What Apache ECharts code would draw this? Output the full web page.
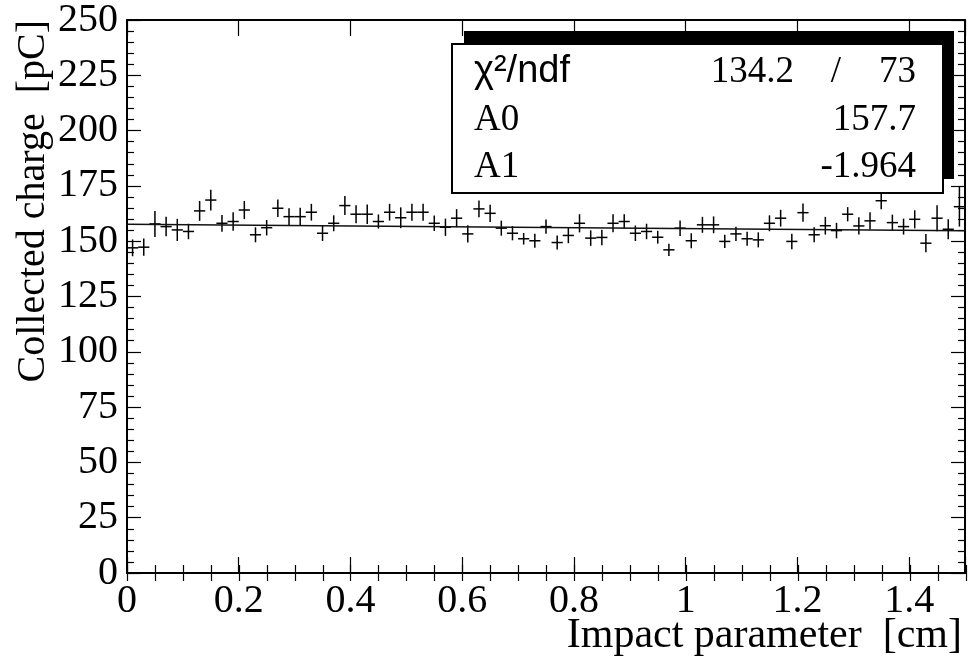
<!DOCTYPE html>
<html>
<head>
<meta charset="utf-8">
<script src="https://cdn.jsdelivr.net/npm/echarts@6/dist/echarts.min.js"></script>
<style>html,body{margin:0;padding:0;background:#fff;}#c{width:968px;height:660px;}</style>
</head>
<body>
<div id="c"></div>
<script>
// ---- data ----
const binCenters = [0.01,0.03,0.05,0.07,0.09,0.11,0.13,0.15,0.17,0.19,
  0.21,0.23,0.25,0.27,0.29,0.31,0.33,0.35,0.37,0.39,
  0.41,0.43,0.45,0.47,0.49,0.51,0.53,0.55,0.57,0.59,
  0.61,0.63,0.65,0.67,0.69,0.71,0.73,0.75,0.77,0.79,
  0.81,0.83,0.85,0.87,0.89,0.91,0.93,0.95,0.97,0.99,
  1.01,1.03,1.05,1.07,1.09,1.11,1.13,1.15,1.17,1.19,
  1.21,1.23,1.25,1.27,1.29,1.31,1.33,1.35,1.37,1.39,
  1.41,1.43,1.45,1.47,1.49];
const binHalfWidth = 0.01;
const charge = [147.0,147.3,157.8,156.6,155.1,154.4,163.7,168.6,158.1,158.9,
  164.1,152.9,156.1,164.9,161.1,161.1,163.1,153.6,158.1,166.1,
  162.2,162.2,158.9,163.1,160.6,163.1,163.1,158.1,156.3,160.4,
  153.3,164.6,162.6,155.9,153.6,151.1,150.2,156.6,149.4,152.6,
  158.1,151.4,151.7,158.1,158.9,153.6,154.4,151.8,146.1,155.9,
  150.2,157.4,157.4,149.9,153.3,151.1,150.6,158.1,160.4,149.9,
  162.9,152.9,157.0,154.8,162.2,156.9,159.2,168.3,158.4,156.6,
  159.9,149.1,160.4,155.4,165.6];
const chargeErr = [3.8,3.9,5.9,4.4,5.0,3.5,4.5,4.7,3.8,4.2,
  4.1,3.4,3.5,4.0,3.8,4.0,3.8,3.5,3.6,4.3,
  4.1,4.4,3.2,3.8,4.7,3.8,3.8,3.5,3.9,4.1,
  3.9,3.8,3.9,3.4,3.2,2.6,3.2,3.2,3.2,3.5,
  4.1,3.5,3.5,4.1,3.3,3.5,3.5,2.9,2.8,3.5,
  3.4,3.6,3.8,3.0,3.2,3.2,3.4,3.6,3.8,3.5,
  4.1,3.4,4.0,3.5,3.2,3.9,3.9,3.8,3.6,3.6,
  4.1,4.1,5.9,4.5,9.0];
const fitX = [0, 1.5];
const fitY = [157.7, 154.754];
const statLabels = ['\u03C7\u00B2/ndf', 'A0', 'A1'];
const statChi2 = '134.2', statNdf = '73';
const statA0 = '157.7', statA1 = '-1.964';
const xTitle = 'Impact parameter  [cm]';
const yTitle = 'Collected charge  [pC]';

// ---- build ----
const serif = '"Liberation Serif", "Times New Roman", serif';
const sans = '"Liberation Sans", Arial, sans-serif';
const pointData = binCenters.map((x, i) => [x, charge[i], chargeErr[i]]);
const fitData = fitX.map((x, i) => [x, fitY[i]]);

const G = {left: 127, right: 2, top: 18, bottom: 87};
const black = '#000';

function majorX(pos, labels) {
  return {
    type: 'value', gridIndex: 0, position: pos, min: 0, max: 1.5, interval: 0.2,
    axisLine: {show: true, onZero: false, lineStyle: {color: black, width: 2}},
    axisTick: {show: true, inside: true, length: 16, lineStyle: {color: black, width: 1.2}},
    axisLabel: {show: labels, margin: 8, color: black, fontFamily: serif, fontSize: 40,
      formatter: v => (Math.abs(v - 1.5) < 1e-9 ? '' : String(Math.round(v * 10) / 10))},
    splitLine: {show: false}
  };
}
function minorX(pos) {
  return {
    type: 'value', gridIndex: 1, position: pos, min: 0, max: 1.5, interval: 0.05,
    axisLine: {show: false},
    axisTick: {show: true, inside: true, length: 8, lineStyle: {color: black, width: 1.2}},
    axisLabel: {show: false}, splitLine: {show: false}
  };
}
function majorY(pos, labels) {
  return {
    type: 'value', gridIndex: 0, position: pos, min: 0, max: 250, interval: 25,
    axisLine: {show: true, onZero: false, lineStyle: {color: black, width: 2}},
    axisTick: {show: true, inside: true, length: 14, lineStyle: {color: black, width: 1.2}},
    minorTick: {show: true, splitNumber: 5, length: 7, lineStyle: {color: black, width: 1.2}},
    axisLabel: {show: labels, margin: 9, color: black, fontFamily: serif, fontSize: 40},
    splitLine: {show: false}, minorSplitLine: {show: false}
  };
}

const chart = echarts.init(document.getElementById('c'), null, {renderer: 'canvas'});
chart.setOption({
  backgroundColor: '#fff',
  animation: false,
  grid: [Object.assign({}, G), Object.assign({}, G)],
  xAxis: [majorX('bottom', true), majorX('top', false), minorX('bottom'), minorX('top')],
  yAxis: [majorY('left', true), majorY('right', false),
    {type: 'value', gridIndex: 1, min: 0, max: 250, show: false},
    {type: 'value', gridIndex: 1, min: 0, max: 250, show: false, position: 'right'}],
  series: [
    {
      type: 'custom', xAxisIndex: 0, yAxisIndex: 0, data: pointData,
      renderItem: function (params, api) {
        const x = api.value(0), y = api.value(1), e = api.value(2);
        const c = api.coord([x, y]);
        const t = api.coord([x, y + e]);
        const b = api.coord([x, y - e]);
        const l = api.coord([x - binHalfWidth, y]);
        const r = api.coord([x + binHalfWidth, y]);
        const st = {stroke: black, lineWidth: 1.5};
        return {type: 'group', children: [
          {type: 'line', shape: {x1: c[0], y1: t[1], x2: c[0], y2: b[1]}, style: st},
          {type: 'line', shape: {x1: l[0], y1: c[1], x2: r[0], y2: c[1]}, style: st}
        ]};
      }
    },
    {
      type: 'line', xAxisIndex: 0, yAxisIndex: 0, data: fitData, symbol: 'none',
      lineStyle: {color: '#111', width: 1.5}, silent: true
    }
  ],
  graphic: [
    {type: 'rect', shape: {x: 464, y: 31, width: 490, height: 148}, style: {fill: black}, z: 100},
    {type: 'rect', shape: {x: 452, y: 44, width: 491, height: 149}, style: {fill: '#fff', stroke: black, lineWidth: 2}, z: 101},
    {type: 'text', x: 474, y: 72, z: 102, style: {text: statLabels[0], font: '38px ' + sans, fill: black, align: 'left', verticalAlign: 'middle'}},
    {type: 'text', x: 474, y: 120, z: 102, style: {text: statLabels[1], font: '37px ' + serif, fill: black, align: 'left', verticalAlign: 'middle'}},
    {type: 'text', x: 474, y: 167, z: 102, style: {text: statLabels[2], font: '37px ' + serif, fill: black, align: 'left', verticalAlign: 'middle'}},
    {type: 'text', x: 794, y: 72, z: 102, style: {text: statChi2, font: '37px ' + serif, fill: black, align: 'right', verticalAlign: 'middle'}},
    {type: 'text', x: 836, y: 72, z: 102, style: {text: '/', font: '37px ' + serif, fill: black, align: 'center', verticalAlign: 'middle'}},
    {type: 'text', x: 916, y: 72, z: 102, style: {text: statNdf, font: '37px ' + serif, fill: black, align: 'right', verticalAlign: 'middle'}},
    {type: 'text', x: 916, y: 120, z: 102, style: {text: statA0, font: '37px ' + serif, fill: black, align: 'right', verticalAlign: 'middle'}},
    {type: 'text', x: 916, y: 167, z: 102, style: {text: statA1, font: '37px ' + serif, fill: black, align: 'right', verticalAlign: 'middle'}},
    {type: 'text', x: 962, y: 636, z: 102, style: {text: xTitle, font: '42px ' + serif, fill: black, align: 'right', verticalAlign: 'middle'}},
    {type: 'text', x: 33, y: 20, rotation: Math.PI / 2, z: 102, style: {text: yTitle, font: '40px ' + serif, fill: black, align: 'right', verticalAlign: 'middle'}}
  ]
});
</script>
</body>
</html>
